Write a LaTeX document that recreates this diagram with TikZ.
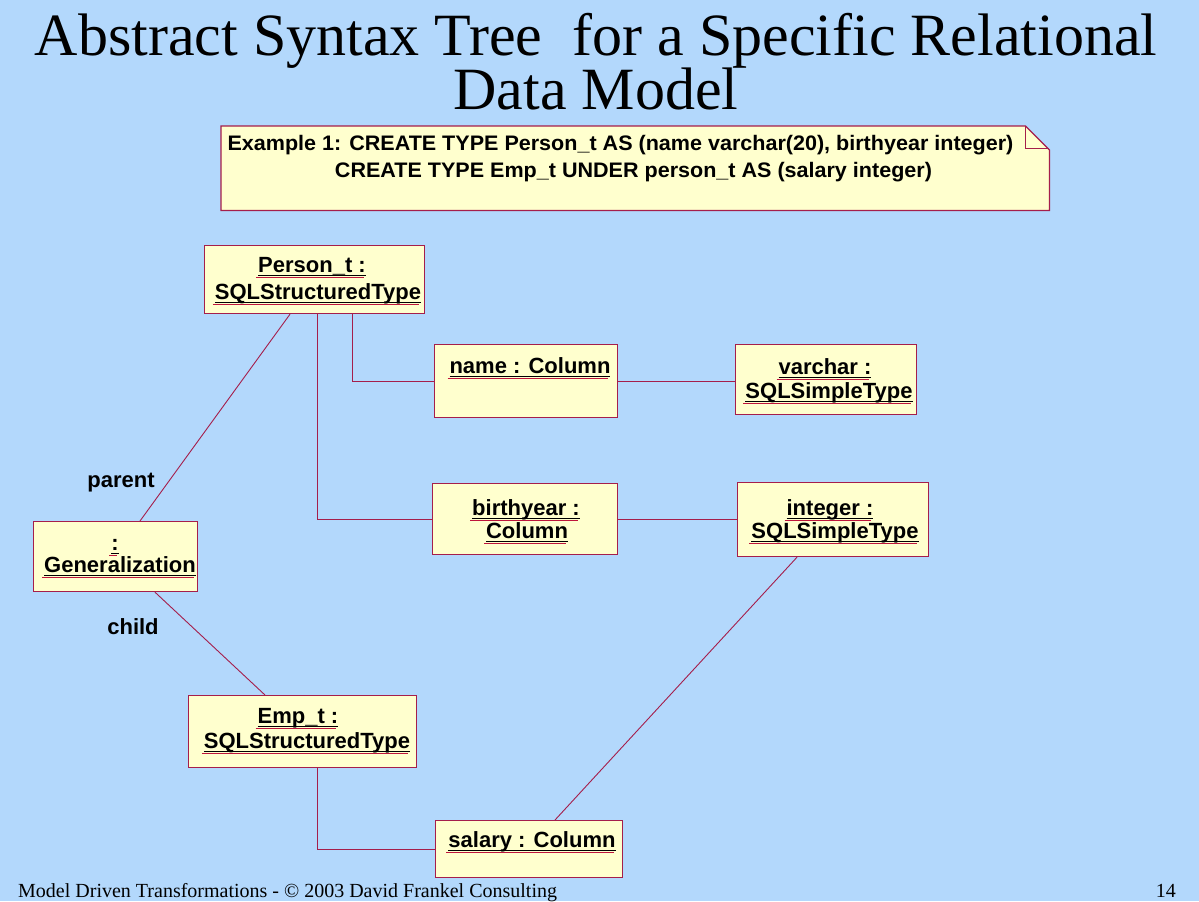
\documentclass[tikz,border=0pt]{standalone}
\usepackage{fontspec}
\setmainfont{Liberation Serif}
\setsansfont{Liberation Sans}
\usetikzlibrary{calc}
\definecolor{bg}{RGB}{179,216,252}
\definecolor{boxfill}{RGB}{255,255,206}
\definecolor{edge}{RGB}{165,30,75}
\definecolor{ulred}{RGB}{190,20,60}
% underlined object name: black rule with a red rule just below it
\newcommand\objname[1]{\setbox0=\hbox{#1}%
  \rlap{\hspace{-2pt}\raisebox{-5.5pt}{\color{ulred}\rule{\wd0}{1pt}}}%
  \rlap{\raisebox{-4pt}{\rule{\wd0}{1.5pt}}}\box0}
\begin{document}
\begin{tikzpicture}[x=1pt,y=-1pt,
  obj/.style={draw=edge, line width=1.2pt, fill=boxfill, inner sep=0pt, anchor=north west},
  lbl/.style={font=\sffamily\bfseries\fontsize{22}{26}\selectfont, inner sep=0pt, anchor=base},
  notetxt/.style={font=\sffamily\bfseries\fontsize{21}{25}\selectfont, inner sep=0pt, anchor=base},
  wire/.style={draw=edge, line width=0.9pt},
  ttl/.style={font=\rmfamily\fontsize{60}{60}\selectfont, inner sep=0pt, anchor=base},
  foot/.style={font=\rmfamily\fontsize{20}{23}\selectfont, inner sep=0pt, anchor=base west}]
\fill[bg] (0,0) rectangle (1199,901);

% title
\node[ttl] (title1) at (596,55) {Abstract Syntax Tree\ \ for a Specific Relational};
\node[ttl] (title2) at (596,109) {Data Model};

% note with folded corner
\node[inner sep=0pt, minimum width=828pt, minimum height=84pt, anchor=north west] (note) at (221,126) {};
\filldraw[draw=edge, line width=1.2pt, fill=boxfill]
  (note.north west) -- ($(note.north east)+(-24,0)$) -- ($(note.north east)+(0,24)$)
  -- (note.south east) -- (note.south west) -- cycle;
\draw[edge, line width=1pt] ($(note.north east)+(-24,0)$) -- ($(note.north east)+(-24,22)$) -- ($(note.north east)+(0,22)$);
\node[notetxt] (note1) at (620.5,150) {\scalebox{1.026}[1]{Example 1: CREATE TYPE Person\_t AS (name varchar(20), birthyear integer)}};
\node[notetxt] (note2) at (633.5,177) {\scalebox{1.026}[1]{CREATE TYPE Emp\_t UNDER person\_t AS (salary integer)}};

% object boxes
\node[obj, minimum width=220pt, minimum height=68pt] (pt) at (204,245) {};
\node[obj, minimum width=183pt, minimum height=73pt] (nm) at (434,344) {};
\node[obj, minimum width=181pt, minimum height=70pt] (vc) at (735,344) {};
\node[obj, minimum width=185pt, minimum height=71pt] (by) at (432,483) {};
\node[obj, minimum width=191pt, minimum height=74pt] (ig) at (737,482) {};
\node[obj, minimum width=164pt, minimum height=70pt] (gen) at (33,521) {};
\node[obj, minimum width=228pt, minimum height=72pt] (emp) at (188,695) {};
\node[obj, minimum width=187pt, minimum height=57pt] (sal) at (435,820) {};

% object names
\node[lbl] (ptA) at (312,272) {\objname{Person\_t :}};
\node[lbl] (ptB) at (318,299) {\objname{SQLStructuredType}};
\node[lbl] (nmA) at (530,373) {\objname{name : Column}};
\node[lbl] (vcA) at (825,374) {\objname{varchar :}};
\node[lbl] (vcB) at (829,398) {\objname{SQLSimpleType}};
\node[lbl] (byA) at (526,515) {\objname{birthyear :}};
\node[lbl] (byB) at (527,538) {\objname{Column}};
\node[lbl] (igA) at (830,515) {\objname{integer :}};
\node[lbl] (igB) at (835,538) {\objname{SQLSimpleType}};
\node[lbl] (genA) at (115,550) {\objname{:}};
\node[lbl] (genB) at (120,572) {\objname{Generalization}};
\node[lbl] (empA) at (298,723) {\objname{Emp\_t :}};
\node[lbl] (empB) at (307,748) {\objname{SQLStructuredType}};
\node[lbl] (salA) at (532,847) {\objname{salary : Column}};

% role names
\node[lbl] (parent) at (121,487) {parent};
\node[lbl] (child) at (133,634) {child};

% links
\draw[wire] ($(pt.south west)+(86,0)$) -- ($(gen.north west)+(107,0)$);
\draw[wire] ($(pt.south west)+(148,0)$) |- (nm.west);
\draw[wire] ($(pt.south west)+(113,0)$) |- (by.west);
\draw[wire] (nm.east) -- (nm.east -| vc.west);
\draw[wire] (by.east) -- (by.east -| ig.west);
\draw[wire] ($(ig.south west)+(60,0)$) -- ($(sal.north west)+(120,0)$);
\draw[wire] ($(gen.south west)+(122,0)$) -- ($(emp.north west)+(77,0)$);
\draw[wire] ($(emp.south west)+(129,0)$) |- (sal.west);

% footer
\node[foot] (footer) at (18,897) {Model Driven Transformations - \textcopyright\ 2003 David Frankel Consulting};
\node[foot, anchor=base east] (page) at (1176,897) {14};
\end{tikzpicture}
\end{document}
